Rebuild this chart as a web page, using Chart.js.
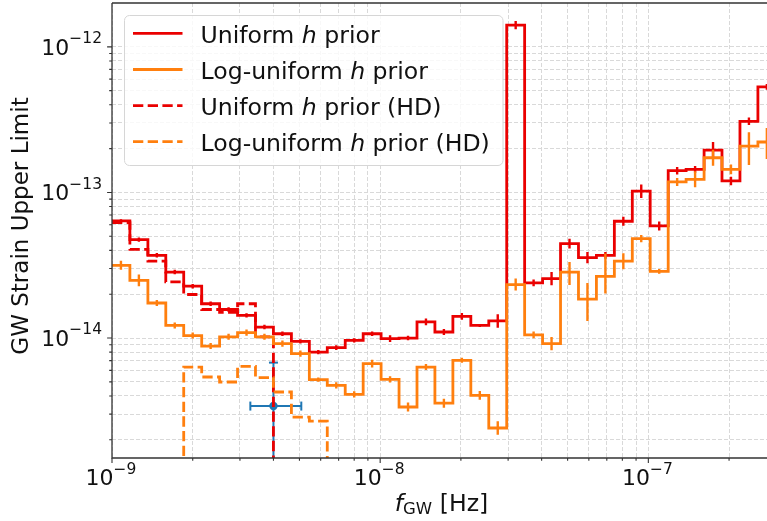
<!DOCTYPE html>
<html>
<head>
<meta charset="utf-8">
<script src="https://cdn.jsdelivr.net/npm/chart.js@4.4.1/dist/chart.umd.min.js"></script>
<style>
  html, body { margin: 0; padding: 0; background: #fff; overflow: hidden; }
  #chart { display: block; }
</style>
</head>
<body>
<canvas id="chart" width="767" height="521"></canvas>
<script>
// frequency bin edges [Hz]
const freqEdges = [
  1.000e-9, 1.166e-9, 1.361e-9, 1.587e-9, 1.851e-9, 2.160e-9, 2.519e-9, 2.939e-9, 3.428e-9, 3.999e-9,
  4.667e-9, 5.444e-9, 6.350e-9, 7.408e-9, 8.642e-9, 1.008e-8, 1.176e-8, 1.372e-8, 1.600e-8, 1.867e-8,
  2.178e-8, 2.541e-8, 2.964e-8, 3.457e-8, 4.033e-8, 4.705e-8, 5.489e-8, 6.403e-8, 7.470e-8, 8.714e-8,
  1.016e-7, 1.186e-7, 1.383e-7, 1.614e-7, 1.882e-7, 2.196e-7, 2.562e-7, 2.988e-7
];

// upper limits per bin
const uniformLimit = [
  6.37e-14, 4.74e-14, 3.70e-14, 2.84e-14, 2.27e-14, 1.72e-14, 1.57e-14, 1.43e-14, 1.19e-14, 1.07e-14,
  9.49e-15, 8.01e-15, 8.59e-15, 9.64e-15, 1.07e-14, 9.91e-15, 1.00e-14, 1.29e-14, 1.10e-14, 1.41e-14,
  1.22e-14, 1.31e-14, 1.41e-12, 2.39e-14, 2.56e-14, 4.45e-14, 3.57e-14, 3.70e-14, 6.34e-14, 1.02e-13,
  5.89e-14, 1.41e-13, 1.44e-13, 1.95e-13, 1.20e-13, 3.08e-13, 5.31e-13
];
const logUniformLimit = [
  3.16e-14, 2.49e-14, 1.74e-14, 1.22e-14, 1.04e-14, 8.81e-15, 1.02e-14, 1.09e-14, 1.02e-14, 9.15e-15,
  7.81e-15, 5.18e-15, 4.73e-15, 4.10e-15, 6.67e-15, 5.20e-15, 3.36e-15, 6.32e-15, 3.57e-15, 7.03e-15,
  4.04e-15, 2.41e-15, 2.33e-14, 1.05e-14, 9.15e-15, 2.84e-14, 1.85e-14, 2.65e-14, 3.37e-14, 4.82e-14,
  2.87e-14, 1.18e-13, 1.23e-13, 1.73e-13, 1.44e-13, 2.08e-13, 2.22e-13
];

// error bar half-lengths, log10 units
const uniformErr = [
  0.012, 0.015, 0.015, 0.015, 0.015, 0.015, 0.015, 0.015, 0.015, 0.015,
  0.015, 0.015, 0.017, 0.015, 0.015, 0.023, 0.015, 0.023, 0.020, 0.023,
  0.010, 0.046, 0.028, 0.023, 0.046, 0.034, 0.039, 0.023, 0.031, 0.046,
  0.031, 0.026, 0.023, 0.057, 0.029, 0.026, 0.020
];
const logUniformErrUp = [
  0.031, 0.041, 0.021, 0.021, 0.021, 0.021, 0.021, 0.021, 0.021, 0.021,
  0.021, 0.014, 0.021, 0.021, 0.027, 0.021, 0.031, 0.021, 0.031, 0.017,
  0.030, 0.046, 0.041, 0.023, 0.045, 0.069, 0.110, 0.158, 0.055, 0.025,
  0.017, 0.027, 0.055, 0.055, 0.034, 0.096, 0.096
];
const logUniformErrDown = [
  0.031, 0.041, 0.021, 0.021, 0.021, 0.021, 0.021, 0.021, 0.021, 0.021,
  0.021, 0.014, 0.021, 0.021, 0.027, 0.021, 0.031, 0.021, 0.031, 0.017,
  0.030, 0.046, 0.041, 0.023, 0.045, 0.089, 0.151, 0.117, 0.055, 0.025,
  0.017, 0.027, 0.055, 0.055, 0.034, 0.130, 0.117
];

// HD runs only cover a few bins; outside them the limit falls below the plotted band
const uniformLimitHD = [6.2e-14, 4.07e-14, 3.37e-14, 2.43e-14, 1.99e-14, 1.57e-14, 1.50e-14, 1.72e-14, 1.02e-14];
const uniformHDFirstBin = 0;
const logUniformLimitHD = [6.32e-15, 5.40e-15, 4.99e-15, 6.39e-15, 5.35e-15, 4.26e-15, 2.86e-15, 2.69e-15];
const logUniformHDFirstBin = 4;
const belowAxis = 1e-16;

// single point with error bars
const pointFreq = 4.0e-9;
const pointStrain = 3.41e-15;
const pointFreqRange = [3.28e-9, 5.08e-9];
const pointStrainRange = [belowAxis, 6.78e-15];

const legendLabels = ['Uniform h prior', 'Log-uniform h prior', 'Uniform h prior (HD)', 'Log-uniform h prior (HD)'];

const xRange = [1e-9, 2.77e-7];
const yRange = [1.5e-15, 2e-12];
const xMajorTicks = [1e-9, 1e-8, 1e-7];
const xMajorExp = ['\u22129', '\u22128', '\u22127'];
const xMinorTicks = [2e-9, 3e-9, 4e-9, 5e-9, 6e-9, 7e-9, 8e-9, 9e-9,
  2e-8, 3e-8, 4e-8, 5e-8, 6e-8, 7e-8, 8e-8, 9e-8, 2e-7];
const yMajorTicks = [1e-14, 1e-13, 1e-12];
const yMajorExp = ['\u221214', '\u221213', '\u221212'];
const yMinorTicks = [2e-15, 3e-15, 4e-15, 5e-15, 6e-15, 7e-15, 8e-15, 9e-15,
  2e-14, 3e-14, 4e-14, 5e-14, 6e-14, 7e-14, 8e-14, 9e-14,
  2e-13, 3e-13, 4e-13, 5e-13, 6e-13, 7e-13, 8e-13, 9e-13];

const RED = '#ea0000';
const ORANGE = '#ff7f0e';
const BLUE = '#1f77b4';
const FONT = '"DejaVu Sans", sans-serif';
const DASH = [10.3, 4.4];

function stepPoints(values, first, dropAtEnd) {
  const pts = [];
  if (first > 0) pts.push({ x: freqEdges[first - 1], y: belowAxis });
  values.forEach((v, i) => pts.push({ x: freqEdges[first + i], y: v }));
  const end = first + values.length;
  pts.push({ x: freqEdges[end], y: dropAtEnd ? belowAxis : values[values.length - 1] });
  return pts;
}

function errorPoints(values, up, down) {
  const pts = [];
  values.forEach((v, i) => {
    const c = Math.sqrt(freqEdges[i] * freqEdges[i + 1]);
    pts.push({ x: c, y: v / Math.pow(10, down[i]) }, { x: c, y: v * Math.pow(10, up[i]) }, { x: c, y: null });
  });
  return pts;
}

const stepStyle = { stepped: true, borderWidth: 2.8, pointRadius: 0, pointHoverRadius: 0, fill: false, borderCapStyle: 'butt' };
const errStyle = { borderWidth: 2.4, pointRadius: 0, pointHoverRadius: 0, fill: false, spanGaps: false, borderCapStyle: 'butt' };

// first dataset ends up on top
const datasets = [
  Object.assign({ label: legendLabels[3], data: stepPoints(logUniformLimitHD, logUniformHDFirstBin, true),
    borderColor: ORANGE, borderDash: DASH }, stepStyle),
  Object.assign({ label: legendLabels[1], data: stepPoints(logUniformLimit, 0, false), borderColor: ORANGE }, stepStyle),
  Object.assign({ label: 'err2', data: errorPoints(logUniformLimit, logUniformErrUp, logUniformErrDown), borderColor: ORANGE }, errStyle),
  Object.assign({ label: legendLabels[2], data: stepPoints(uniformLimitHD, uniformHDFirstBin, true),
    borderColor: RED, borderDash: DASH }, stepStyle),
  Object.assign({ label: legendLabels[0], data: stepPoints(uniformLimit, 0, false), borderColor: RED }, stepStyle),
  Object.assign({ label: 'err1', data: errorPoints(uniformLimit, uniformErr, uniformErr), borderColor: RED }, errStyle),
  {
    label: 'point', data: [{ x: pointFreq, y: pointStrain }],
    showLine: false, pointRadius: 4.2, pointHoverRadius: 4.2, pointBackgroundColor: BLUE, pointBorderColor: BLUE, pointBorderWidth: 0
  },
  {
    label: 'caps',
    data: [{ x: pointFreqRange[0], y: pointStrain }, { x: pointFreqRange[1], y: pointStrain }, { x: pointFreq, y: pointStrainRange[1] }],
    showLine: false, pointStyle: 'line', pointRadius: 4.5, pointHoverRadius: 4.5, borderColor: BLUE, pointBorderWidth: 2,
    pointRotation: ctx => (ctx.dataIndex < 2 ? 90 : 0)
  },
  Object.assign({
    label: 'perr',
    data: [{ x: pointFreqRange[0], y: pointStrain }, { x: pointFreqRange[1], y: pointStrain }, { x: pointFreq, y: null },
           { x: pointFreq, y: pointStrainRange[0] }, { x: pointFreq, y: pointStrainRange[1] }],
    borderColor: BLUE
  }, errStyle, { borderWidth: 2 })
];

function drawPow(ctx, exp, x, baseline, align) {
  ctx.font = '22px ' + FONT;
  const w1 = ctx.measureText('10').width;
  ctx.font = '15.5px ' + FONT;
  const w2 = ctx.measureText(exp).width;
  const w = w1 + w2;
  const x0 = align === 'right' ? x - w : x - w / 2;
  ctx.textAlign = 'left';
  ctx.textBaseline = 'alphabetic';
  ctx.font = '22px ' + FONT;
  ctx.fillText('10', x0, baseline);
  ctx.font = '15.5px ' + FONT;
  ctx.fillText(exp, x0 + w1, baseline - 11.7);
}

function drawRich(ctx, parts, x, baseline) {
  let cx = x;
  parts.forEach(p => {
    ctx.font = p.font;
    ctx.fillText(p.text, cx, baseline + (p.dy || 0));
    cx += ctx.measureText(p.text).width;
  });
  return cx - x;
}

const LEG_FONT = '23.6px ' + FONT;
function labelParts(label) {
  const i = label.indexOf(' h ');
  return [
    { text: label.slice(0, i + 1), font: LEG_FONT },
    { text: 'h', font: 'italic ' + LEG_FONT },
    { text: label.slice(i + 2), font: LEG_FONT }
  ];
}

const decor = {
  id: 'decor',
  afterDraw(chart) {
    const { ctx, chartArea: a, scales: { x, y } } = chart;
    ctx.save();
    // spines
    ctx.strokeStyle = '#333';
    ctx.lineWidth = 1.3;
    ctx.beginPath();
    ctx.moveTo(a.left, a.top); ctx.lineTo(a.right + 2, a.top);
    ctx.moveTo(a.left, a.top); ctx.lineTo(a.left, a.bottom); ctx.lineTo(a.right + 2, a.bottom);
    ctx.stroke();

    // tick marks
    ctx.lineWidth = 1.1;
    ctx.beginPath();
    xMajorTicks.forEach(v => { const px = x.getPixelForValue(v); ctx.moveTo(px, a.bottom); ctx.lineTo(px, a.bottom + 4.9); });
    xMinorTicks.forEach(v => { const px = x.getPixelForValue(v); ctx.moveTo(px, a.bottom); ctx.lineTo(px, a.bottom + 2.8); });
    yMajorTicks.forEach(v => { const py = y.getPixelForValue(v); ctx.moveTo(a.left, py); ctx.lineTo(a.left - 4.9, py); });
    yMinorTicks.forEach(v => { const py = y.getPixelForValue(v); ctx.moveTo(a.left, py); ctx.lineTo(a.left - 2.8, py); });
    ctx.stroke();

    // tick labels
    ctx.fillStyle = '#111';
    xMajorTicks.forEach((v, i) => drawPow(ctx, xMajorExp[i], x.getPixelForValue(v) - 1, a.bottom + 27.3, 'center'));
    yMajorTicks.forEach((v, i) => drawPow(ctx, yMajorExp[i], a.left - 10, y.getPixelForValue(v) + 8, 'right'));

    // axis titles
    const xt = [
      { text: 'f', font: 'italic 23.6px ' + FONT },
      { text: 'GW', font: '16.5px ' + FONT, dy: 3.5 },
      { text: ' [Hz]', font: '23.6px ' + FONT }
    ];
    let tw = 0;
    xt.forEach(p => { ctx.font = p.font; tw += ctx.measureText(p.text).width; });
    ctx.textAlign = 'left';
    drawRich(ctx, xt, (a.left + a.right) / 2 + 2 - tw / 2, 510.5);

    ctx.save();
    ctx.translate(28, 226);
    ctx.rotate(-Math.PI / 2);
    ctx.font = '23px ' + FONT;
    ctx.textAlign = 'center';
    ctx.fillText('GW Strain Upper Limit', 0, 0);
    ctx.restore();

    // legend
    const bx = 124.5, by = 15.5, bw = 378.5, bh = 150, r = 5;
    ctx.beginPath();
    ctx.moveTo(bx + r, by);
    ctx.arcTo(bx + bw, by, bx + bw, by + bh, r);
    ctx.arcTo(bx + bw, by + bh, bx, by + bh, r);
    ctx.arcTo(bx, by + bh, bx, by, r);
    ctx.arcTo(bx, by, bx + bw, by, r);
    ctx.closePath();
    ctx.fillStyle = 'rgba(255,255,255,0.8)';
    ctx.fill();
    ctx.strokeStyle = '#d6d6d6';
    ctx.lineWidth = 1;
    ctx.stroke();

    const items = [
      { label: legendLabels[0], color: RED, dash: [] },
      { label: legendLabels[1], color: ORANGE, dash: [] },
      { label: legendLabels[2], color: RED, dash: DASH },
      { label: legendLabels[3], color: ORANGE, dash: DASH }
    ];
    items.forEach((it, i) => {
      const ry = 33.4 + i * 36.1;
      ctx.strokeStyle = it.color;
      ctx.lineWidth = 2.8;
      ctx.setLineDash(it.dash);
      ctx.lineCap = 'butt';
      ctx.beginPath();
      ctx.moveTo(133, ry); ctx.lineTo(182.5, ry);
      ctx.stroke();
      ctx.setLineDash([]);
      ctx.fillStyle = '#111';
      ctx.textAlign = 'left';
      ctx.textBaseline = 'alphabetic';
      drawRich(ctx, labelParts(it.label), 200.5, ry + 9.3);
    });
    ctx.restore();
  }
};

const gridStyle = { color: '#d9d9d9', lineWidth: 1, drawTicks: false };

new Chart(document.getElementById('chart'), {
  type: 'line',
  data: { datasets },
  plugins: [decor],
  options: {
    responsive: false,
    animation: false,
    events: [],
    layout: { autoPadding: false, padding: { top: 3, right: 0, bottom: 0, left: 0 } },
    plugins: { legend: { display: false }, tooltip: { enabled: false } },
    scales: {
      x: {
        type: 'logarithmic', position: 'bottom', min: xRange[0], max: xRange[1],
        afterBuildTicks(s) { s.ticks = xMajorTicks.concat(xMinorTicks).map(v => ({ value: v })); },
        afterFit(s) { s.height = 63; },
        ticks: { display: false, autoSkip: false },
        grid: gridStyle,
        border: { display: false, dash: [4, 2] }
      },
      y: {
        type: 'logarithmic', position: 'left', min: yRange[0], max: yRange[1],
        afterBuildTicks(s) { s.ticks = yMajorTicks.concat(yMinorTicks).map(v => ({ value: v })); },
        afterFit(s) { s.width = 112; },
        ticks: { display: false, autoSkip: false },
        grid: gridStyle,
        border: { display: false, dash: [4, 2] }
      }
    }
  }
});
</script>
</body>
</html>
